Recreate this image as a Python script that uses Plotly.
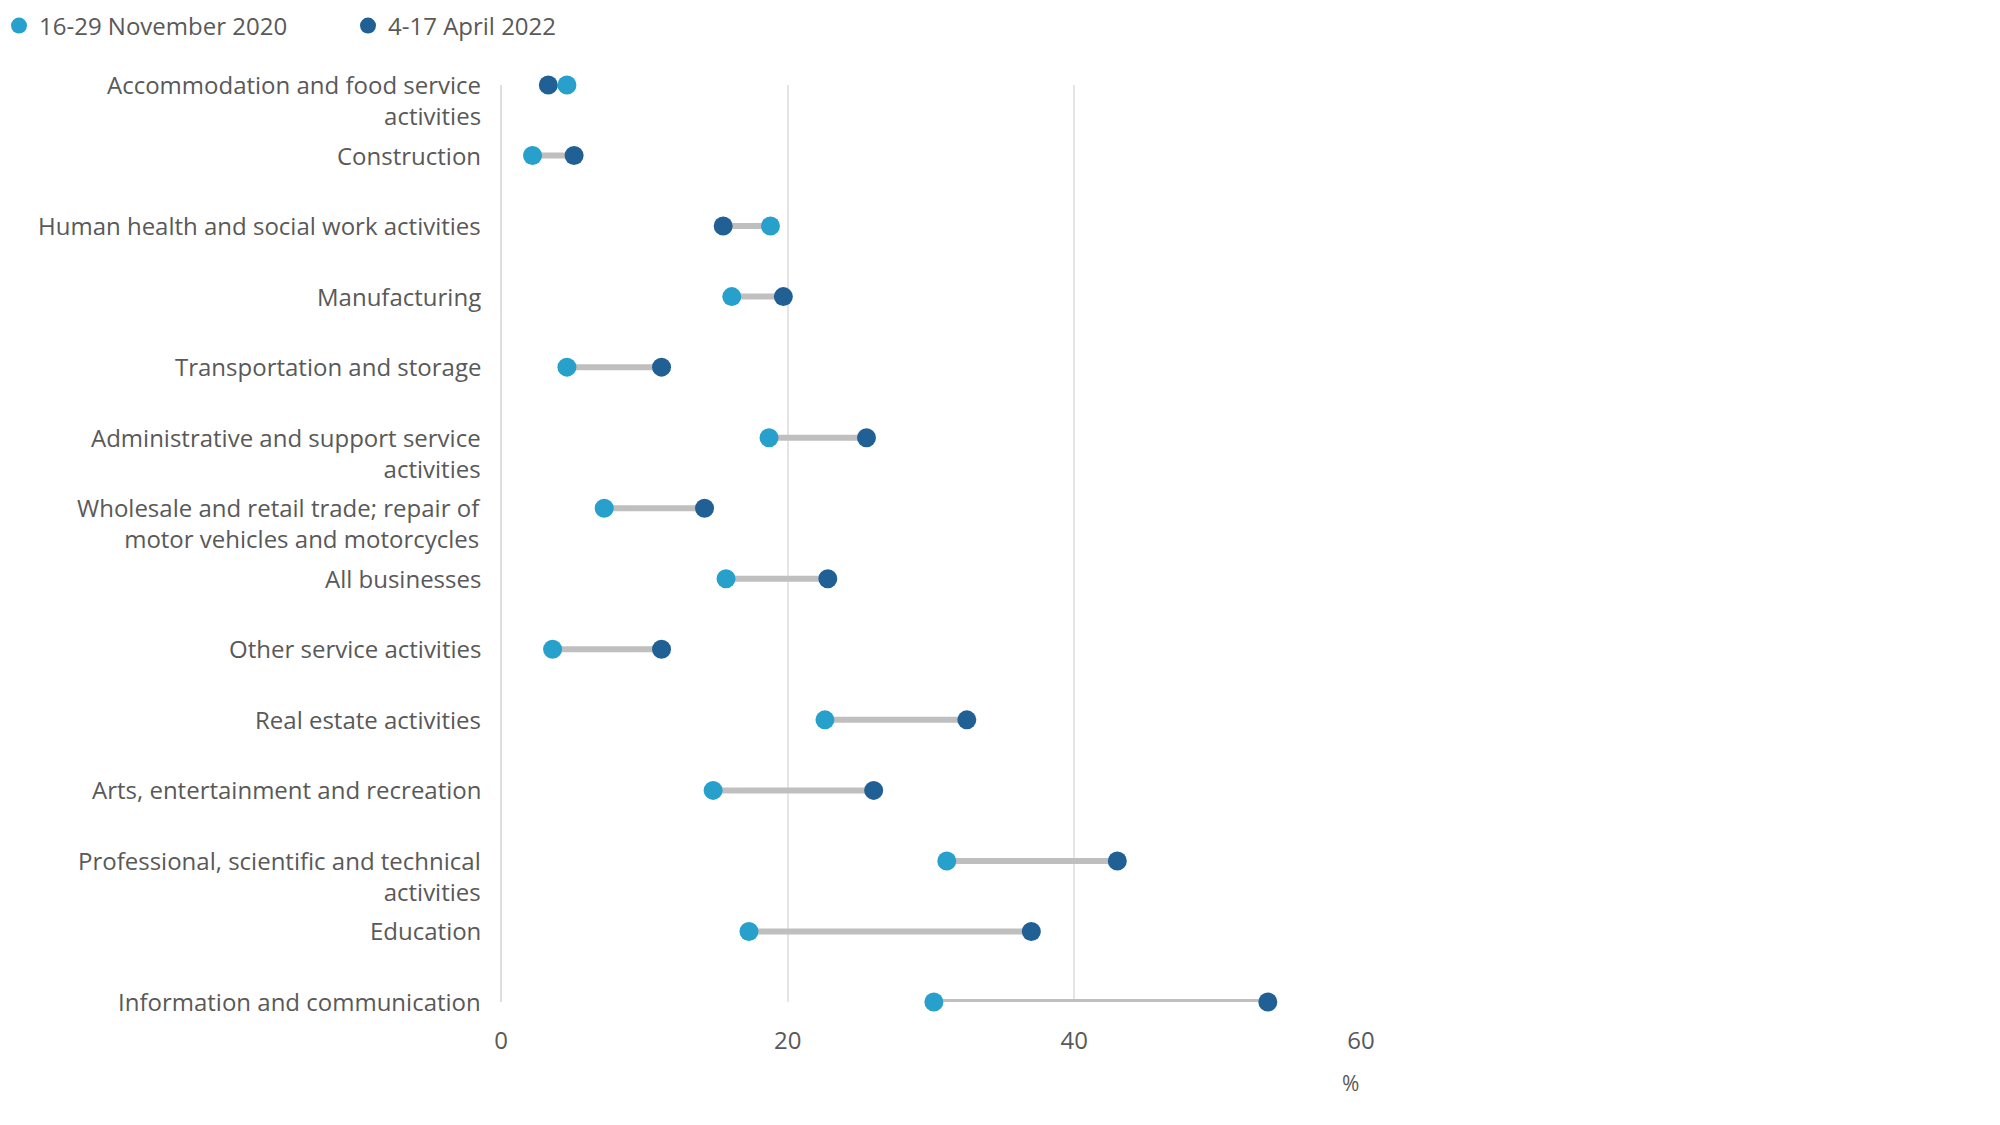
import plotly.graph_objects as go

categories = [
    "Accommodation and food service<br>activities",
    "Construction",
    "Human health and social work activities",
    "Manufacturing",
    "Transportation and storage",
    "Administrative and support service<br>activities",
    "Wholesale and retail trade; repair of<br>motor vehicles and motorcycles",
    "All businesses",
    "Other service activities",
    "Real estate activities",
    "Arts, entertainment and recreation",
    "Professional, scientific and technical<br>activities",
    "Education",
    "Information and communication",
]
nov2020 = [4.6, 2.2, 18.8, 16.1, 4.6, 18.7, 7.2, 15.7, 3.6, 22.6, 14.8, 31.1, 17.3, 30.2]
apr2022 = [3.3, 5.1, 15.5, 19.7, 11.2, 25.5, 14.2, 22.8, 11.2, 32.5, 26.0, 43.0, 37.0, 53.5]
series_names = ["16-29 November 2020", "4-17 April 2022"]
x_ticks = [0, 20, 40, 60]

LIGHT = "#27a0cc"
DARK = "#206095"
TEXT = "#595959"
FONT = "Open Sans"
FS = 24

fig = go.Figure()

# connectors
lx, ly = [], []
for c, a, b in zip(categories, nov2020, apr2022):
    lx += [a, b, None]
    ly += [c, c, None]
fig.add_trace(go.Scatter(x=lx, y=ly, mode="lines",
                         line=dict(color="#bfbfbf", width=6),
                         showlegend=False, hoverinfo="skip", cliponaxis=False))

fig.add_trace(go.Scatter(x=apr2022, y=categories, mode="markers", name=series_names[1],
                         marker=dict(color=DARK, size=19), cliponaxis=False, showlegend=False))
fig.add_trace(go.Scatter(x=nov2020, y=categories, mode="markers", name=series_names[0],
                         marker=dict(color=LIGHT, size=19), cliponaxis=False, showlegend=False))

# legend entries (order: Nov 2020 first)
fig.add_trace(go.Scatter(x=[None], y=[None], mode="markers", name=series_names[0],
                         marker=dict(color=LIGHT, size=19)))
fig.add_trace(go.Scatter(x=[None], y=[None], mode="markers", name=series_names[1],
                         marker=dict(color=DARK, size=19)))

# page body adds an 8px offset; compensate
OFF = 8
L, R, T, B = 501 - OFF, 639 + OFF, 85 - OFF, 123 + OFF
pw, ph = 2000 - L - R, 1125 - T - B

annotations = []
for c in categories:
    annotations.append(dict(x=0, y=c, xref="x", yref="y", text=c, showarrow=False,
                            xanchor="right", yanchor="top", align="right",
                            xshift=-18, yshift=19,
                            font=dict(family=FONT, size=FS, color=TEXT)))
annotations.append(dict(x=(1350 - OFF - L) / pw, y=(1125 - B - (1083 - OFF)) / ph,
                        xref="paper", yref="paper",
                        text="%", showarrow=False, xanchor="center", yanchor="middle",
                        font=dict(family=FONT, size=21, color=TEXT)))

fig.update_layout(
    width=2000, height=1125,
    margin=dict(l=L, r=R, t=T, b=B),
    paper_bgcolor="white", plot_bgcolor="white",
    font=dict(family=FONT, color=TEXT, size=FS),
    showlegend=True,
    legend=dict(orientation="h", xref="container", yref="container",
                x=0, y=1 - (26 - OFF) / 1125, indentation=-9,
                xanchor="left", yanchor="middle", bgcolor="rgba(0,0,0,0)",
                font=dict(family=FONT, size=FS, color=TEXT),
                entrywidth=313, traceorder="normal"),
    xaxis=dict(range=[0, 60], tickvals=x_ticks, showgrid=True, gridcolor="#e5e5e5",
               gridwidth=2, zeroline=True, zerolinecolor="#dedede", zerolinewidth=2,
               showline=False, ticks="", tickfont=dict(family=FONT, size=FS, color=TEXT),
               ticklabelstandoff=22, fixedrange=True),
    yaxis=dict(type="category", categoryorder="array", categoryarray=categories,
               range=[len(categories) - 1, 0], showticklabels=False, showgrid=False,
               zeroline=False, showline=False, ticks=""),
    annotations=annotations,
)

fig.write_html("out.html")
